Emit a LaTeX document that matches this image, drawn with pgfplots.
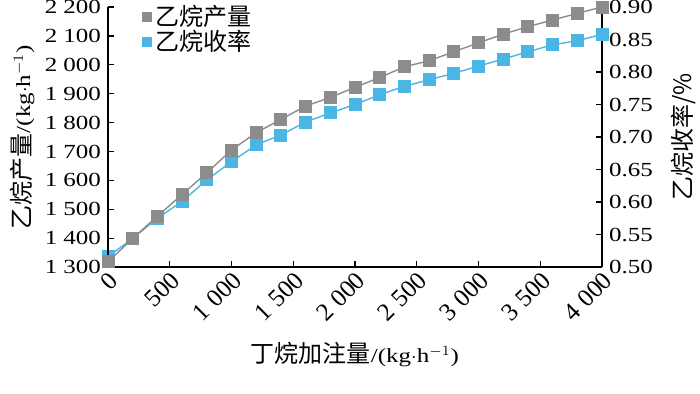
\documentclass[border=0pt]{standalone}
\usepackage{pgfplots}
\pgfplotsset{compat=1.18}
\usepackage{fontspec}
\setmainfont{Liberation Serif}[FakeStretch=1.25]
\newfontfamily\xfont{Liberation Serif}
\newfontfamily\cjk{Noto Sans CJK SC}[Scale=1.2]
\definecolor{cgray}{RGB}{140,140,140}
\definecolor{cblue}{RGB}{75,182,228}
\pgfplotstableread{
x y
0 1318
200 1399
400 1476
600 1551
800 1626
1000 1705
1200 1765
1400 1811
1600 1857
1800 1887
2000 1922
2200 1956
2400 1993
2600 2014
2800 2045
3000 2076
3200 2106
3400 2132
3600 2155
3800 2178
4000 2200
}\prodtable
\pgfplotstableread{
x y
0 0.516
200 0.544
400 0.575
600 0.601
800 0.634
1000 0.662
1200 0.688
1400 0.703
1600 0.723
1800 0.737
2000 0.750
2200 0.765
2400 0.778
2600 0.788
2800 0.798
3000 0.809
3200 0.820
3400 0.831
3600 0.842
3800 0.848
4000 0.858
}\yieldtable
\begin{document}
\begin{tikzpicture}
\path[use as bounding box] (-54pt,-63pt) rectangle (296pt,133.5pt);
\pgfplotsset{
  every axis/.append style={
    at={(0,0)}, anchor=south west,
    scale only axis, width=247pt, height=130pt,
    xmin=0, xmax=4000,
    tick align=inside, major tick length=2.8pt,
    font=\fontsize{10}{12}\selectfont,
    /pgf/number format/assume math mode=true,
    /pgf/number format/1000 sep={\hspace{0.3em}},
    axis line style={line width=0.8pt},
    every tick/.style={black, line width=0.6pt},
  }
}
\begin{axis}[
  axis y line*=right, axis x line=none,
  ymin=0.5, ymax=0.9,
  ytick={0.5,0.55,...,0.91},
  yticklabel style={/pgf/number format/.cd, fixed, fixed zerofill, precision=2},
  ylabel={\cjk 乙烷收率/\%},
  ylabel style={at={(axis description cs:1.164,0.5)}, anchor=center, rotate=0},
  clip=false,
]
\addplot[cblue, line width=0.7pt, mark=square*, mark size=2.9pt, mark options={fill=cblue, draw=cblue}] table[x=x,y=y]{\yieldtable};
\end{axis}
\begin{axis}[
  axis y line*=left, axis x line*=bottom,
  ymin=1300, ymax=2200,
  ytick={1300,1400,...,2200},
  xtick={0,500,...,4000},
  xticklabel style={rotate=45, anchor=north east, inner sep=1pt, font=\xfont\fontsize{12.5}{14}\selectfont},
  ylabel={{\cjk 乙烷产量}/(kg$\cdot$h$^{-1}$)},
  ylabel style={at={(axis description cs:-0.174,0.5)}, anchor=center},
  xlabel={{\cjk 丁烷加注量}/(kg$\cdot$h$^{-1}$)},
  xlabel style={at={(axis description cs:0.5,-0.338)}, anchor=center},
  legend style={draw=none, fill=none, at={(0.065,1.03)}, anchor=north west, font=\fontsize{10}{12}\selectfont, row sep=-3.5pt, inner sep=1pt},
  legend cell align=left,
  legend image code/.code={\draw[#1, only marks, mark size=2.2pt] plot coordinates {(0.15cm,0cm)};},
  clip=false,
]
\addplot[cgray, line width=0.7pt, mark=square*, mark size=2.9pt, mark options={fill=cgray, draw=cgray}] table[x=x,y=y]{\prodtable};
\addlegendentry{\cjk 乙烷产量}
\addlegendimage{cblue, mark=square*, mark options={fill=cblue, draw=cblue}}
\addlegendentry{\cjk 乙烷收率}
\end{axis}
\end{tikzpicture}
\end{document}
